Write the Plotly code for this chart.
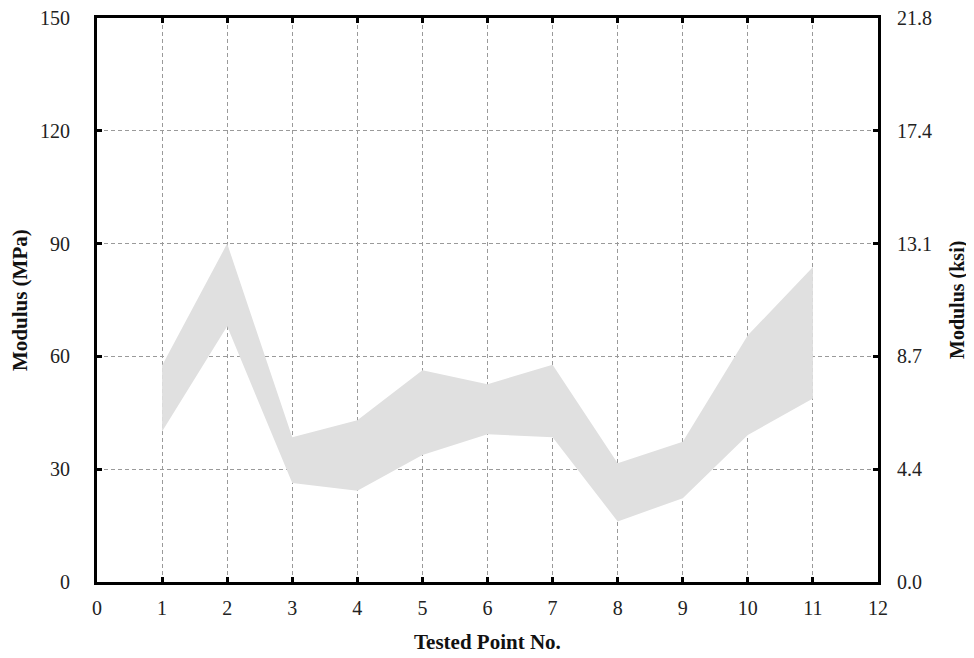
import plotly.graph_objects as go

points = [1, 2, 3, 4, 5, 6, 7, 8, 9, 10, 11]
upper_mpa = [57.6, 90.0, 38.5, 43.0, 56.3, 52.6, 57.8, 31.6, 37.3, 65.6, 83.8]
lower_mpa = [40.0, 68.0, 26.3, 24.3, 33.8, 39.3, 38.5, 16.1, 22.3, 39.1, 48.8]

x_ticks = list(range(0, 13))
y_ticks = [0, 30, 60, 90, 120, 150]
ksi_labels = ["0.0", "4.4", "8.7", "13.1", "17.4", "21.8"]

font_family = "Liberation Serif, Times New Roman, serif"
tick_font = dict(family=font_family, size=20, color="#222")
title_font = dict(family=font_family, size=21, color="#111")

fig = go.Figure()
fig.add_trace(go.Scatter(
    x=points + points[::-1],
    y=upper_mpa + lower_mpa[::-1],
    fill="toself",
    fillcolor="#e0e0e0",
    line=dict(width=0, color="#e0e0e0"),
    mode="lines",
    showlegend=False,
    hoverinfo="skip",
))
fig.add_trace(go.Scatter(x=[0, 12], y=[0, 150], yaxis="y2", mode="markers",
                         marker=dict(opacity=0), showlegend=False, hoverinfo="skip"))

axis_common = dict(
    showline=True, linecolor="black", linewidth=3,
    ticks="inside", ticklen=5, tickwidth=3, tickcolor="black",
    zeroline=False, automargin=False, ticklabeloverflow="allow",
    tickfont=tick_font,
)
grid = dict(showgrid=True, gridcolor="#9a9a9a", griddash="4px,3px", gridwidth=1)

fig.update_layout(
    width=966, height=650,
    margin=dict(l=89, r=96, t=10, b=76),
    plot_bgcolor="white", paper_bgcolor="white",
    font=dict(family=font_family, color="#222"),
    xaxis=dict(**axis_common, **grid, range=[0, 12], tickvals=x_ticks, mirror="ticks",
               ticklabelstandoff=6),
    yaxis=dict(**axis_common, **grid, range=[0, 150], tickvals=y_ticks, mirror=True,
               ticklabelstandoff=20),
    yaxis2=dict(**axis_common, overlaying="y", side="right", range=[0, 150],
                tickvals=y_ticks, ticktext=ksi_labels, showgrid=False,
                ticklabelstandoff=12),
    annotations=[
        dict(text="<b>Tested Point No.</b>", xref="paper", yref="paper", x=0.5, y=0,
             yshift=-60, showarrow=False, font=title_font, yanchor="middle"),
        dict(text="<b>Modulus (MPa)</b>", xref="paper", yref="paper", x=0, y=0.5,
             xshift=-77, showarrow=False, font=title_font, textangle=-90, xanchor="center"),
        dict(text="<b>Modulus (ksi)</b>", xref="paper", yref="paper", x=1, y=0.5,
             xshift=79, showarrow=False, font=dict(family=font_family, size=20, color="#111"),
             textangle=-90, xanchor="center"),
    ],
)

fig.write_html("out.html")
